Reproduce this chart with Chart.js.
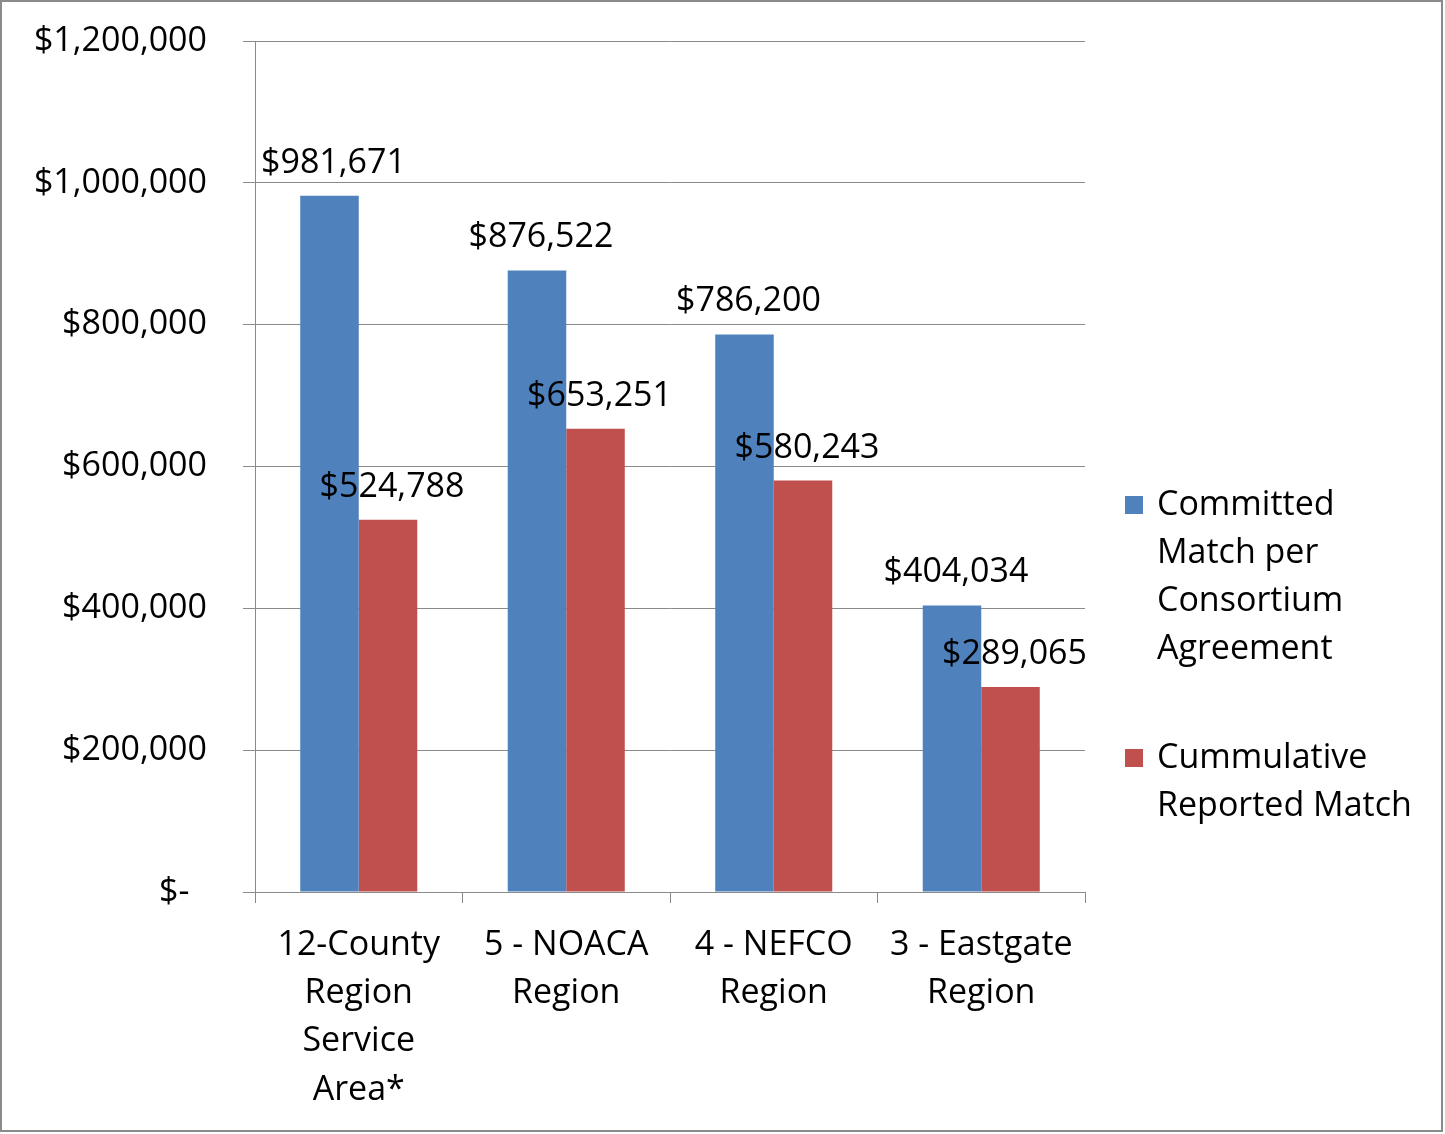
<!DOCTYPE html>
<html>
<head>
<meta charset="utf-8">
<script src="https://cdn.jsdelivr.net/npm/chart.js@4"></script>
<style>
  body { margin: 0; background: #fff; }
  #wrap { width: 1445px; height: 1134px; }
</style>
</head>
<body>
<div id="wrap"><canvas id="chart" width="1445" height="1134"></canvas></div>
<script>
// 데이터
const categories = [
    ['12-County', 'Region', 'Service', 'Area*'],
    ['5 - NOACA', 'Region'],
    ['4 - NEFCO', 'Region'],
    ['3 - Eastgate', 'Region']
];
const committed = [981671, 876522, 786200, 404034];
const reported = [524788, 653251, 580243, 289065];
const seriesNames = [
    ['Committed', 'Match per', 'Consortium', 'Agreement'],
    ['Cummulative', 'Reported Match']
];
const yTicks = [0, 200000, 400000, 600000, 800000, 1000000, 1200000];

const FONT = '"Open Sans", "DejaVu Sans", sans-serif';
const SIZE = 34;

function money(v) {
    return '$' + v.toLocaleString('en-US');
}

// 막대 위 값 표시
const valueLabels = {
    id: 'valueLabels',
    afterDatasetsDraw(chart) {
        const ctx = chart.ctx;
        ctx.save();
        ctx.font = `${SIZE}px ${FONT}`;
        ctx.fillStyle = '#000';
        ctx.textAlign = 'center';
        ctx.textBaseline = 'alphabetic';
        chart.data.datasets.forEach((ds, i) => {
            chart.getDatasetMeta(i).data.forEach((bar, j) => {
                ctx.fillText(money(ds.data[j]), bar.x + 4, bar.y - 23);
            });
        });
        ctx.restore();
    }
};

// 오른쪽 범례 + 테두리
const sideLegend = {
    id: 'sideLegend',
    afterDraw(chart) {
        const ctx = chart.ctx;
        ctx.save();
        ctx.font = `${SIZE}px ${FONT}`;
        ctx.textAlign = 'left';
        ctx.textBaseline = 'middle';
        const starts = [505, 758];
        chart.data.datasets.forEach((ds, i) => {
            ctx.fillStyle = ds.backgroundColor;
            ctx.fillRect(1125, starts[i] - 9, 18, 18);
            ctx.fillStyle = '#000';
            seriesNames[i].forEach((line, k) => {
                ctx.fillText(line, 1157, starts[i] + k * 48);
            });
        });
        ctx.strokeStyle = '#8a8a8a';
        ctx.lineWidth = 2;
        ctx.strokeRect(1, 1, 1441, 1130);
        ctx.restore();
    }
};

new Chart(document.getElementById('chart'), {
    type: 'bar',
    data: {
        labels: categories,
        datasets: [
            { label: 'Committed Match per Consortium Agreement', data: committed, backgroundColor: '#4F81BD' },
            { label: 'Cummulative Reported Match', data: reported, backgroundColor: '#C0504D' }
        ]
    },
    options: {
        responsive: false,
        animation: false,
        layout: { padding: { left: 0, top: 41, right: 360, bottom: 0 } },
        plugins: { legend: { display: false }, tooltip: { enabled: false } },
        datasets: { bar: { categoryPercentage: 0.564, barPercentage: 1 } },
        scales: {
            x: {
                grid: { drawOnChartArea: false, drawTicks: true, tickLength: 11, color: '#8a8a8a', offset: true },
                border: { color: '#8a8a8a', width: 1 },
                ticks: {
                    color: '#000',
                    font: { family: FONT, size: SIZE, lineHeight: 1.42 },
                    padding: 18,
                    maxRotation: 0,
                    autoSkip: false
                },
                afterFit(scale) {
                    scale.height = 242;
                    scale.paddingLeft = 0;
                    scale.paddingRight = 0;
                }
            },
            y: {
                min: 0,
                max: 1200000,
                afterBuildTicks(scale) { scale.ticks = yTicks.map(v => ({ value: v })); },
                grid: { color: '#8a8a8a', tickLength: 12 },
                border: { color: '#8a8a8a', width: 1 },
                ticks: {
                    color: '#000',
                    font: { family: FONT, size: SIZE },
                    padding: 36,
                    callback: v => v === 0 ? '$-\u00a0\u00a0' : money(v)
                },
                afterFit(scale) {
                    scale.width = 255;
                    scale.paddingTop = 0;
                    scale.paddingBottom = 0;
                }
            }
        }
    },
    plugins: [valueLabels, sideLegend]
});
</script>
</body>
</html>
